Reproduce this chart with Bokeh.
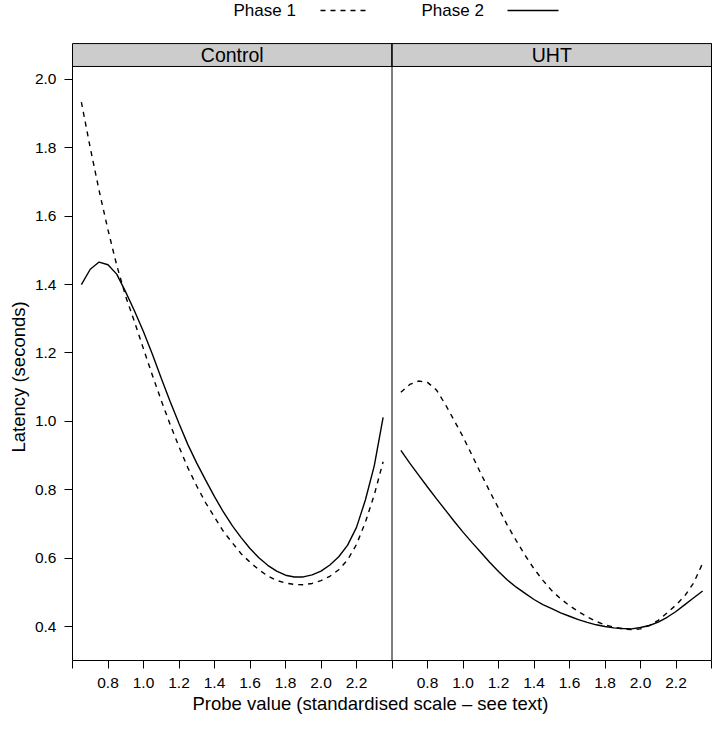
from bokeh.plotting import figure
from bokeh.models import FixedTicker, Range1d, Title, PrintfTickFormatter
from bokeh.embed import file_html
from bokeh.resources import INLINE
from bokeh.core.properties import value

# ---------------- data ----------------
panels = ["Control", "UHT"]
series = ["Phase 1", "Phase 2"]

probe = [0.65, 0.70, 0.75, 0.80, 0.85, 0.90, 0.95, 1.00, 1.05, 1.10,
         1.15, 1.20, 1.25, 1.30, 1.35, 1.40, 1.45, 1.50, 1.55, 1.60,
         1.65, 1.70, 1.75, 1.80, 1.85, 1.90, 1.95, 2.00, 2.05, 2.10,
         2.15, 2.20, 2.25, 2.30, 2.35]

control_phase1 = [1.934, 1.800, 1.675, 1.560, 1.455, 1.365, 1.290, 1.212, 1.135, 1.061,
                  0.991, 0.926, 0.864, 0.811, 0.762, 0.720, 0.678, 0.645, 0.613, 0.588,
                  0.566, 0.548, 0.535, 0.527, 0.523, 0.522, 0.526, 0.534, 0.547, 0.566,
                  0.595, 0.640, 0.705, 0.785, 0.882]
control_phase2 = [1.400, 1.445, 1.466, 1.458, 1.430, 1.378, 1.322, 1.262, 1.196, 1.126,
                  1.058, 0.994, 0.932, 0.878, 0.828, 0.780, 0.735, 0.695, 0.660, 0.628,
                  0.601, 0.579, 0.562, 0.550, 0.545, 0.545, 0.551, 0.562, 0.580, 0.604,
                  0.638, 0.690, 0.770, 0.870, 1.012]
uht_phase1 = [1.085, 1.108, 1.118, 1.114, 1.092, 1.050, 1.003, 0.955, 0.902, 0.848,
              0.796, 0.746, 0.696, 0.651, 0.608, 0.569, 0.535, 0.505, 0.481, 0.461,
              0.444, 0.428, 0.415, 0.405, 0.398, 0.393, 0.391, 0.393, 0.403, 0.418,
              0.440, 0.463, 0.490, 0.528, 0.585]
uht_phase2 = [0.915, 0.878, 0.843, 0.808, 0.774, 0.741, 0.708, 0.676, 0.646, 0.617,
              0.588, 0.561, 0.536, 0.515, 0.497, 0.479, 0.464, 0.452, 0.440, 0.430,
              0.420, 0.412, 0.405, 0.400, 0.396, 0.394, 0.393, 0.397, 0.403, 0.413,
              0.427, 0.444, 0.464, 0.484, 0.504]

x_tick_values = [0.6, 0.8, 1.0, 1.2, 1.4, 1.6, 1.8, 2.0, 2.2, 2.4]
x_tick_labels = ["", "0.8", "1.0", "1.2", "1.4", "1.6", "1.8", "2.0", "2.2", ""]
y_tick_values = [0.4, 0.6, 0.8, 1.0, 1.2, 1.4, 1.6, 1.8, 2.0]

x_label = "Probe value (standardised scale \u2013 see text)"
y_label = "Latency (seconds)"

panel_data = {
    "Control": {"Phase 1": control_phase1, "Phase 2": control_phase2},
    "UHT": {"Phase 1": uht_phase1, "Phase 2": uht_phase2},
}

# ---------------- layout constants ----------------
FONT = "Liberation Sans"
W, H = 712, 715
PANEL_BOTTOM_PX = 660
BORDER_L, BORDER_R, BORDER_T, BORDER_B = 72, 0, 0, H - PANEL_BOTTOM_PX
X_LO, X_HI = 0.6, 2.4             # panel x limits (data)
PANEL_W = X_HI - X_LO
Y_LO, Y_PANEL_TOP = 0.3006, 2.038  # panel y limits (data)
STRIP_TOP = 2.105

frame_w = W - BORDER_L - BORDER_R
frame_h = H - BORDER_T - BORDER_B
x_scale = (frame_w - 1) / (2 * PANEL_W)          # px per data unit
y_scale = 341.9
x_end = X_LO + frame_w / x_scale
y_end = Y_LO + frame_h / y_scale

def px_x(px):   # figure-pixel x -> data x
    return X_LO + (px - BORDER_L) / x_scale

def px_y(py):   # figure-pixel y (from top) -> data y
    return Y_LO + (PANEL_BOTTOM_PX - py) / y_scale

p = figure(width=W, height=H, output_backend="svg", toolbar_location=None,
           x_range=Range1d(X_LO, x_end), y_range=Range1d(Y_LO, y_end),
           min_border_left=BORDER_L, min_border_right=BORDER_R,
           min_border_top=BORDER_T, min_border_bottom=BORDER_B,
           background_fill_color="white", border_fill_color="white")
p.outline_line_color = None
p.grid.visible = False

# ---------------- axes ----------------
all_ticks, overrides = [], {}
for i in range(len(panels)):
    for t, lab in zip(x_tick_values, x_tick_labels):
        v = round(t + i * PANEL_W, 6)
        if v in overrides:
            overrides[v] = ""
        else:
            all_ticks.append(v)
            overrides[v] = lab
xa = p.xaxis[0]
xa.ticker = FixedTicker(ticks=all_ticks)
xa.major_label_overrides = overrides
xa.bounds = (X_LO, X_LO + 2 * PANEL_W)
ya = p.yaxis[0]
ya.ticker = FixedTicker(ticks=y_tick_values)
ya.formatter = PrintfTickFormatter(format="%.1f")
ya.bounds = (Y_LO, STRIP_TOP)
for ax in (xa, ya):
    ax.minor_tick_line_color = None
    ax.major_tick_in = 0
    ax.major_tick_out = 8
    ax.major_tick_line_color = "black"
    ax.axis_line_color = "black"
    ax.major_label_text_font = FONT
    ax.major_label_text_font_size = "15.5px"
    ax.major_label_text_color = "black"
    ax.major_label_standoff = 8
xa.major_label_standoff = 9
ya.major_label_orientation = "horizontal"

xt = Title(text=x_label, align="left", offset=192 - BORDER_L, standoff=0,
           text_font=FONT, text_font_size="18.5px", text_font_style="normal",
           text_color="black")
p.add_layout(xt, "below")
yt = Title(text=y_label, align="left", offset=PANEL_BOTTOM_PX - 452, standoff=6,
           text_font=FONT, text_font_size="18.5px", text_font_style="normal",
           text_color="black")
p.add_layout(yt, "left")

# ---------------- panels ----------------
p.quad(left=[X_LO + i * PANEL_W for i in range(len(panels))],
       right=[X_HI + i * PANEL_W for i in range(len(panels))],
       bottom=Y_PANEL_TOP, top=STRIP_TOP,
       fill_color="#cccccc", line_color="black", line_width=1)
p.segment(x0=[X_HI, X_HI + PANEL_W], y0=Y_LO, x1=[X_HI, X_HI + PANEL_W], y1=STRIP_TOP,
          line_color="black", line_width=1)
p.text(x=[(X_LO + X_HI) / 2 + i * PANEL_W for i in range(len(panels))],
       y=(Y_PANEL_TOP + STRIP_TOP) / 2, text=panels,
       text_align="center", text_baseline="middle",
       text_font=value(FONT), text_font_size="19.5px", text_color="black")

dash_styles = {"Phase 1": "5 5", "Phase 2": "solid"}
for i, panel in enumerate(panels):
    xs = [x + i * PANEL_W for x in probe]
    for s in series:
        p.line(xs, panel_data[panel][s], line_color="black", line_width=1.4,
               line_dash=dash_styles[s])

# ---------------- key (text then line sample) ----------------
key_y = px_y(10)
key_text_left = [233, 421]
key_line = [(320, 367), (507, 558)]
p.text(x=[px_x(v) for v in key_text_left], y=key_y, text=series,
       text_align="left", text_baseline="middle",
       text_font=value(FONT), text_font_size="17px", text_color="black")
for s, (a, b) in zip(series, key_line):
    p.line([px_x(a), px_x(b)], [key_y, key_y], line_color="black",
           line_width=1.4, line_dash=dash_styles[s])

open("out.html", "w").write(file_html(p, INLINE))
